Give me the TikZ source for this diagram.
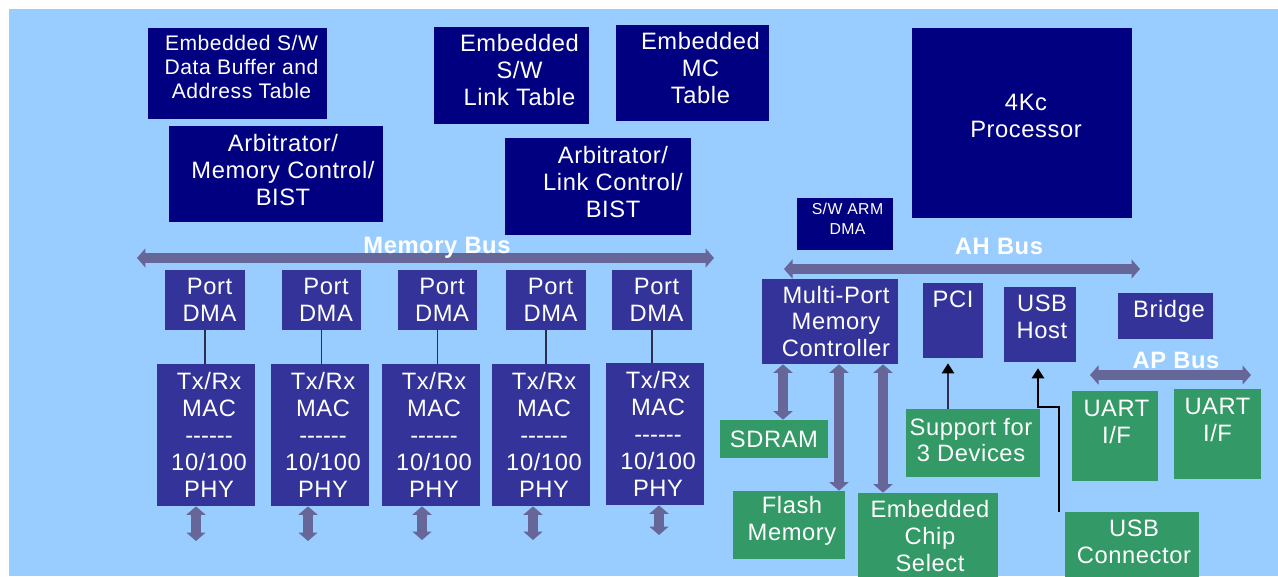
\documentclass[tikz,border=0pt]{standalone}
\usepackage{fontspec}
\setmainfont{Liberation Sans}[LetterSpace=2.5]
\usetikzlibrary{arrows.meta}
\definecolor{mainnavy}{RGB}{0, 0, 128}
\definecolor{portblue}{RGB}{51, 51, 153}
\definecolor{chipgreen}{RGB}{51, 153, 102}
\definecolor{busgray}{RGB}{102, 102, 153}
\definecolor{skyblue}{RGB}{153, 204, 255}
\definecolor{wiregray}{RGB}{45, 45, 80}

\newcommand{\dashrow}{\mbox{-}\mbox{-}\mbox{-}\mbox{-}\mbox{-}\mbox{-}}

\tikzset{
  block/.style={rectangle, inner sep=0pt},
  navyblock/.style={block, fill=mainnavy},
  portblock/.style={block, fill=portblue},
  chipblock/.style={block, fill=chipgreen},
  blocktext/.style={text=white, align=center, inner sep=0pt,
    font=\fontsize{13.5}{15.3}\selectfont},
  busline/.style={draw=busgray, line width=0.19cm,
    {Triangle[width=0.38cm,length=0.17cm]}-{Triangle[width=0.38cm,length=0.17cm]}},
  buslabel/.style={text=white, font=\fontsize{13.5}{15.3}\selectfont\bfseries},
  wire/.style={draw=wiregray, line width=0.75pt},
  signal/.style={draw=black, line width=0.6pt, -{Triangle[width=0.25cm,length=0.2cm,black]}}
}

\begin{document}
\begin{tikzpicture}[x=0.02cm, y=-0.02cm]
        % page and panel
        \useasboundingbox (0,0) rectangle (1278,576);
        \clip (0,0) rectangle (1278,576);
        \fill[white] (0,0) rectangle (1278,576);
        \fill[skyblue] (9,9) rectangle (1278,576);

        % embedded memories and arbiters
        \node[navyblock, minimum width=3.58cm, minimum height=1.82cm,
          label={[blocktext, xshift=0.08cm, yshift=0.13cm, font=\fontsize{12}{13.6}\selectfont]center:Embedded S/W\\Data Buffer and\\Address Table}]
          (databuf) at (237.5,73.5) {};
        \node[navyblock, minimum width=4.28cm, minimum height=1.92cm,
          label={[blocktext, xshift=0.14cm, yshift=0.08cm]center:Arbitrator/\\Memory Control/\\BIST}]
          (arbmem) at (276,174) {};
        \node[navyblock, minimum width=3.10cm, minimum height=1.94cm,
          label={[blocktext, xshift=0.16cm, yshift=0.11cm]center:Embedded\\S/W\\Link Table}]
          (linktab) at (511.5,75.5) {};
        \node[navyblock, minimum width=3.06cm, minimum height=1.92cm,
          label={[blocktext, xshift=0.16cm, yshift=0.1cm]center:Embedded\\MC\\Table}]
          (mctab) at (692.5,73) {};
        \node[navyblock, minimum width=3.72cm, minimum height=1.94cm,
          label={[blocktext, xshift=0.3cm, yshift=0.09cm]center:Arbitrator/\\Link Control/\\BIST}]
          (arblink) at (598,186.5) {};

        % processor side
        \node[navyblock, minimum width=4.40cm, minimum height=3.80cm,
          label={[blocktext, xshift=0.08cm, yshift=0.14cm]center:4Kc\\Processor}]
          (cpu) at (1022,123) {};
        \node[navyblock, minimum width=1.92cm, minimum height=1.04cm,
          label={[blocktext, xshift=0.05cm, yshift=0.1cm, font=\fontsize{9}{11.3}\selectfont]center:S/W ARM\\DMA}]
          (armdma) at (845,224) {};

        % buses
        \coordinate (membusL) at (137,258);
        \coordinate (membusR) at (714,258);
        \draw[busline] (membusL) -- (membusR);
        \node[buslabel] (membuslabel) at (437,248) {Memory Bus};

        \coordinate (ahbusL) at (784,269);
        \coordinate (ahbusR) at (1140,269);
        \draw[busline] (ahbusL) -- (ahbusR);
        \node[buslabel] (ahbuslabel) at (999,246) {AH Bus};

        \coordinate (apbusL) at (1090,375);
        \coordinate (apbusR) at (1251,375);
        \draw[busline] (apbusL) -- (apbusR);
        \node[buslabel] (apbuslabel) at (1176,360) {AP Bus};

        % port DMA engines
        \node[portblock, minimum width=1.6cm, minimum height=1.2cm,
          label={[blocktext, xshift=0.09cm]center:Port\\DMA}] (pdma1) at (205,300) {};
        \node[portblock, minimum width=1.6cm, minimum height=1.2cm,
          label={[blocktext, xshift=0.09cm]center:Port\\DMA}] (pdma2) at (321.5,300) {};
        \node[portblock, minimum width=1.6cm, minimum height=1.2cm,
          label={[blocktext, xshift=0.09cm]center:Port\\DMA}] (pdma3) at (437.5,300) {};
        \node[portblock, minimum width=1.6cm, minimum height=1.2cm,
          label={[blocktext, xshift=0.09cm]center:Port\\DMA}] (pdma4) at (546,300) {};
        \node[portblock, minimum width=1.6cm, minimum height=1.2cm,
          label={[blocktext, xshift=0.09cm]center:Port\\DMA}] (pdma5) at (652,300) {};

        % MAC / PHY blocks
        \node[portblock, minimum width=1.96cm, minimum height=2.84cm,
          label={[blocktext, xshift=0.06cm]center:Tx/Rx\\MAC\\\dashrow\\10/100\\PHY}] (mac1) at (206,435) {};
        \node[portblock, minimum width=1.96cm, minimum height=2.84cm,
          label={[blocktext, xshift=0.06cm]center:Tx/Rx\\MAC\\\dashrow\\10/100\\PHY}] (mac2) at (320,435) {};
        \node[portblock, minimum width=1.96cm, minimum height=2.84cm,
          label={[blocktext, xshift=0.06cm]center:Tx/Rx\\MAC\\\dashrow\\10/100\\PHY}] (mac3) at (431,435) {};
        \node[portblock, minimum width=1.96cm, minimum height=2.84cm,
          label={[blocktext, xshift=0.06cm]center:Tx/Rx\\MAC\\\dashrow\\10/100\\PHY}] (mac4) at (541,435) {};
        \node[portblock, minimum width=1.96cm, minimum height=2.84cm,
          label={[blocktext, xshift=0.06cm]center:Tx/Rx\\MAC\\\dashrow\\10/100\\PHY}] (mac5) at (655,434) {};

        \draw[wire] (pdma1.south) -- (pdma1.south |- mac1.north);
        \draw[wire] (pdma2.south) -- (pdma2.south |- mac2.north);
        \draw[wire] (pdma3.south) -- (pdma3.south |- mac3.north);
        \draw[wire] (pdma4.south) -- (pdma4.south |- mac4.north);
        \draw[wire] (pdma5.south) -- (pdma5.south |- mac5.north);

        % line side of each PHY
        \coordinate (phy1) at (196,541);
        \coordinate (phy2) at (308,541);
        \coordinate (phy3) at (422,540);
        \coordinate (phy4) at (533,540);
        \coordinate (phy5) at (659,535);
        \draw[busline] (phy1 |- mac1.south) -- (phy1);
        \draw[busline] (phy2 |- mac2.south) -- (phy2);
        \draw[busline] (phy3 |- mac3.south) -- (phy3);
        \draw[busline] (phy4 |- mac4.south) -- (phy4);
        \draw[busline] (phy5 |- mac5.south) -- (phy5);

        % AH bus peripherals
        \node[portblock, minimum width=2.72cm, minimum height=1.70cm,
          label={[blocktext, xshift=0.12cm]center:Multi-Port\\Memory\\Controller}] (mpmc) at (830,321.5) {};
        \node[portblock, minimum width=1.2cm, minimum height=1.5cm,
          label={[blocktext, yshift=0.43cm]center:PCI}] (pci) at (953,320.5) {};
        \node[portblock, minimum width=1.44cm, minimum height=1.5cm,
          label={[blocktext, xshift=0.04cm, yshift=0.16cm]center:USB\\Host}] (usbhost) at (1040,324.5) {};
        \node[portblock, minimum width=1.9cm, minimum height=0.92cm,
          label={[blocktext, xshift=0.07cm, yshift=0.1cm]center:Bridge}] (bridge) at (1165.5,316) {};

        % external parts
        \node[chipblock, minimum width=2.16cm, minimum height=0.76cm,
          label={[blocktext]center:SDRAM}] (sdram) at (774,439) {};
        \node[chipblock, minimum width=2.24cm, minimum height=1.36cm,
          label={[blocktext, xshift=0.06cm, yshift=0.08cm]center:Flash\\Memory}] (flash) at (789,525) {};
        \node[chipblock, minimum width=2.8cm, minimum height=2.0cm,
          label={[blocktext, xshift=0.04cm, yshift=0.14cm]center:Embedded\\Chip\\Select}] (chipsel) at (928,543) {};
        \node[chipblock, minimum width=2.68cm, minimum height=1.36cm,
          label={[blocktext, xshift=-0.04cm, yshift=0.06cm]center:Support for\\3 Devices}] (support) at (973,443) {};
        \node[chipblock, minimum width=2.68cm, minimum height=1.56cm,
          label={[blocktext, xshift=0.04cm, yshift=0.18cm]center:USB\\Connector}] (usbconn) at (1132,551) {};
        \node[chipblock, minimum width=1.72cm, minimum height=1.8cm,
          label={[blocktext, xshift=0.03cm, yshift=0.28cm]center:UART\\I/F}] (uart1) at (1115,436) {};
        \node[chipblock, minimum width=1.74cm, minimum height=1.8cm,
          label={[blocktext, yshift=0.28cm]center:UART\\I/F}] (uart2) at (1217.5,434) {};

        % memory controller links
        \draw[busline] (783,0 |- mpmc.south) -- (783,0 |- sdram.north);
        \draw[busline] (839,0 |- mpmc.south) -- (839,0 |- flash.north);
        \draw[busline] (883,0 |- mpmc.south) -- (883,0 |- chipsel.north);

        % signal lines
        \draw[signal, draw=wiregray, line width=0.8pt, shorten >=0.1cm]
          (948,0 |- support.north) -- (948,0 |- pci.south);
        \draw[signal, shorten >=0.12cm]
          (1059,0 |- usbconn.north) |- (1038,407) -- (1038,0 |- usbhost.south);
    \end{tikzpicture}
\end{document}
